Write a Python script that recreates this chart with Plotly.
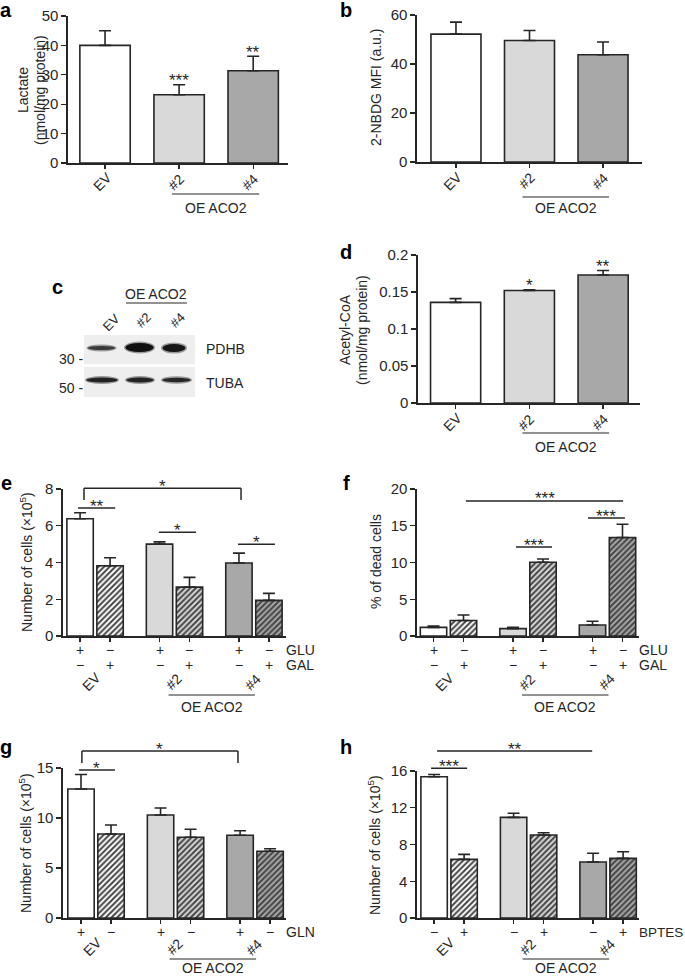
import plotly.graph_objects as go

W, H = 685, 977
FONT = "Liberation Sans, Arial, Helvetica, sans-serif"
INK = "#262626"
C_EV = "#ffffff"
C_2 = "#d9d9d9"
C_4 = "#a8a8a8"
HATCH = "#444444"

# ---------------- data ----------------
clones = ["EV", "#2", "#4"]
lactate = [40.0, 23.2, 31.4]
lactate_sem = [5.0, 3.4, 4.9]
lactate_sig = ["", "***", "**"]

nbdg = [52.2, 49.6, 43.8]
nbdg_sem = [4.9, 4.1, 5.2]

acetyl_coa = [0.136, 0.152, 0.173]
acetyl_coa_sem = [0.005, 0.001, 0.006]
acetyl_coa_sig = ["", "*", "**"]

cells_glu_gal = [6.38, 3.82, 5.00, 2.66, 3.97, 1.94]
cells_glu_gal_sem = [0.33, 0.44, 0.12, 0.53, 0.54, 0.38]
glu_row = ["+", "−", "+", "−", "+", "−"]
gal_row = ["−", "+", "−", "+", "−", "+"]

dead_cells = [1.18, 2.10, 1.00, 10.03, 1.50, 13.40]
dead_cells_sem = [0.18, 0.75, 0.20, 0.45, 0.50, 1.80]

cells_gln = [12.9, 8.4, 10.3, 8.07, 8.27, 6.67]
cells_gln_sem = [1.45, 0.90, 0.70, 0.80, 0.46, 0.26]
gln_row = ["+", "−", "+", "−", "+", "−"]

cells_bptes = [15.37, 6.38, 10.95, 9.03, 6.09, 6.49]
cells_bptes_sem = [0.25, 0.55, 0.45, 0.25, 0.95, 0.72]
bptes_row = ["−", "+", "−", "+", "−", "+"]

# significance brackets: (x0, x1, y, leg_bottom, label) in data units
sig_e = [(0.13, 5.37, 8.04, 7.4, "*"), (-0.07, 1.17, 6.96, None, "**"),
         (2.63, 3.87, 5.65, None, "*"), (5.27, 6.50, 5.00, None, "*")]
sig_f = [(1.08, 6.32, 18.37, None, "***"), (2.75, 3.95, 12.1, None, "***"),
         (5.15, 6.38, 16.05, None, "***")]
sig_g = [(0.03, 5.23, 16.7, 15.5, "*"), (-0.07, 1.13, 14.8, None, "*")]
sig_h = [(0.10, 5.27, 18.17, None, "**"), (-0.10, 1.10, 16.3, None, "***")]

# ---------------- layout geometry ----------------
pos3 = [0, 1, 2]
pos6 = [0, 1, 2.65, 3.65, 5.3, 6.3]
groups6 = [0.5, 3.15, 5.8]
colors3 = [C_EV, C_2, C_4]
colors6 = [C_EV, C_EV, C_2, C_2, C_4, C_4]

P = {
    "a": dict(n="", xd=(68, 288), yd=(16, 163), xr=(-0.5, 2.47), yr=(0, 50), yt=[0, 10, 20, 30, 40, 50]),
    "b": dict(n="2", xd=(417, 642), yd=(15, 162), xr=(-0.53, 2.53), yr=(0, 60), yt=[0, 20, 40, 60]),
    "d": dict(n="3", xd=(418, 640), yd=(255, 403), xr=(-0.51, 2.5), yr=(0, 0.2), yt=[0, 0.05, 0.1, 0.15, 0.2]),
    "e": dict(n="4", xd=(63, 286), yd=(489, 636), xr=(-0.57, 6.87), yr=(0, 8), yt=[0, 2, 4, 6, 8]),
    "f": dict(n="5", xd=(417, 639), yd=(489, 636), xr=(-0.55, 6.85), yr=(0, 20), yt=[0, 5, 10, 15, 20]),
    "g": dict(n="6", xd=(63, 286), yd=(768, 918), xr=(-0.6, 6.83), yr=(0, 15), yt=[0, 5, 10, 15]),
    "h": dict(n="7", xd=(417, 639), yd=(771, 918), xr=(-0.57, 6.83), yr=(0, 16), yt=[0, 4, 8, 12, 16]),
}

annotations = []
shapes = []


def d2px(p, x, y):
    g = P[p]
    px = g["xd"][0] + (x - g["xr"][0]) / (g["xr"][1] - g["xr"][0]) * (g["xd"][1] - g["xd"][0])
    py = g["yd"][1] - (y - g["yr"][0]) / (g["yr"][1] - g["yr"][0]) * (g["yd"][1] - g["yd"][0])
    return px, py


def ann(text, x, y, size=14, xanchor="center", yanchor="middle", angle=0, bold=False, color=INK):
    if bold:
        text = "<b>" + text + "</b>"
    annotations.append(dict(text=text, x=x / W, y=1 - y / H, xref="paper", yref="paper",
                            showarrow=False, xanchor=xanchor, yanchor=yanchor, textangle=angle,
                            borderpad=0,
                            font=dict(family=FONT, size=size, color=color)))


def seg(x0, y0, x1, y1, width=1.5, color=INK):
    shapes.append(dict(type="line", xref="paper", yref="paper", x0=x0 / W, y0=1 - y0 / H,
                       x1=x1 / W, y1=1 - y1 / H, line=dict(color=color, width=width)))


fig = go.Figure()


def add_panel(p, xs, ys, sem, colors, width, hatch=None):
    g = P[p]
    n = g["n"]
    marker = dict(color=colors, line=dict(color=INK, width=1.6))
    if hatch:
        marker["pattern"] = dict(shape=hatch, fgcolor=HATCH, fgopacity=1, size=4, solidity=0.5,
                                 fillmode="overlay")
    fig.add_trace(go.Bar(
        x=xs, y=ys, width=width, marker=marker, xaxis="x" + n, yaxis="y" + n,
        error_y=dict(type="data", array=sem, arrayminus=[0] * len(sem), symmetric=False,
                     color=INK, thickness=1.6, width=6),
        showlegend=False, hoverinfo="skip"))
    xa = dict(domain=[g["xd"][0] / W, g["xd"][1] / W], range=list(g["xr"]), anchor="y" + n,
              showgrid=False, zeroline=False, showline=True, linecolor=INK, linewidth=1.6,
              ticks="outside", ticklen=4, tickwidth=1.3, tickcolor=INK, tickvals=xs,
              showticklabels=False, fixedrange=True, automargin=False)
    ya = dict(domain=[1 - g["yd"][1] / H, 1 - g["yd"][0] / H], range=list(g["yr"]), anchor="x" + n,
              showgrid=False, zeroline=False, showline=True, linecolor=INK, linewidth=1.6,
              ticks="outside", ticklen=5, tickwidth=1.3, tickcolor=INK, tickvals=g["yt"],
              ticktext=[("%g" % v) for v in g["yt"]],
              tickfont=dict(family=FONT, size=15, color=INK), fixedrange=True, automargin=False)
    fig.layout["xaxis" + n] = xa
    fig.layout["yaxis" + n] = ya


add_panel("a", pos3, lactate, lactate_sem, colors3, 0.68)
add_panel("b", pos3, nbdg, nbdg_sem, colors3, 0.68)
add_panel("d", pos3, acetyl_coa, acetyl_coa_sem, colors3, 0.68)
hatch6 = ["", "/", "", "/", "", "/"]
add_panel("e", pos6, cells_glu_gal, cells_glu_gal_sem, colors6, 0.88, hatch6)
add_panel("f", pos6, dead_cells, dead_cells_sem, colors6, 0.88, hatch6)
add_panel("g", pos6, cells_gln, cells_gln_sem, colors6, 0.88, hatch6)
add_panel("h", pos6, cells_bptes, cells_bptes_sem, colors6, 0.88, hatch6)

STAR = 17

# ---- category labels for a, b, d ----
for p, oe_line, oe_text in (("a", 31, 45), ("b", 35, 46), ("d", 30, 44)):
    _, axis_y = d2px(p, 0, 0)
    for i, lab in zip(pos3, clones):
        tx, _ = d2px(p, i, 0)
        ann(lab, tx - 3, axis_y + 19, size=14, angle=-45)
    x2, _ = d2px(p, pos3[1], 0)
    x4, _ = d2px(p, pos3[2], 0)
    seg(x2 - 7, axis_y + oe_line, x4 + 6, axis_y + oe_line, width=1.2)
    ann("OE ACO2", (x2 + x4) / 2, axis_y + oe_text, size=14)

# significance stars above bars (a, d)
for p, vals, sems, sig in (("a", lactate, lactate_sem, lactate_sig),
                           ("d", acetyl_coa, acetyl_coa_sem, acetyl_coa_sig)):
    for i, v, s, lab in zip(pos3, vals, sems, sig):
        if lab:
            tx, ty = d2px(p, i, v + s)
            ann(lab, tx, ty - 8 + 4, size=STAR)

# ---- condition rows and clone labels for e-h ----
rows = {"e": ([glu_row, gal_row], ["GLU", "GAL"]), "f": ([glu_row, gal_row], ["GLU", "GAL"]),
        "g": ([gln_row], ["GLN"]), "h": ([bptes_row], ["BPTES"])}
for p, (rlist, rnames) in rows.items():
    _, axis_y = d2px(p, 0, 0)
    for k, (row, name) in enumerate(zip(rlist, rnames)):
        ry = axis_y + 14 + 15 * k
        for xv, sym in zip(pos6, row):
            tx, _ = d2px(p, xv, 0)
            ann(sym, tx, ry, size=14)
        ann(name, P[p]["xd"][1] - 1, ry, size=(13.5 if name == "BPTES" else 14), xanchor="left")
    nrow = len(rlist)
    lab_dy = 46 if nrow == 2 else 29
    line_dy = 59 if nrow == 2 else 41
    for j, (gx, lab) in enumerate(zip(groups6, clones)):
        tx, _ = d2px(p, gx, 0)
        ann(lab, tx - (4 if j == 0 else 1), axis_y + lab_dy, size=14, angle=-45)
    x2, _ = d2px(p, groups6[1], 0)
    x4, _ = d2px(p, groups6[2], 0)
    seg(x2 - 6, axis_y + line_dy, x4 + 1, axis_y + line_dy, width=1.2)
    ann("OE ACO2", (x2 - 6 + x4 + 1) / 2, min(axis_y + line_dy + 12, 968), size=14)

# ---- significance lines e-h ----
for p, sigs in (("e", sig_e), ("f", sig_f), ("g", sig_g), ("h", sig_h)):
    for x0, x1, y, leg, lab in sigs:
        px0, py = d2px(p, x0, y)
        px1, _ = d2px(p, x1, y)
        seg(px0, py, px1, py, width=1.5)
        if leg is not None:
            _, pl = d2px(p, x0, leg)
            seg(px0, py, px0, pl, width=1.5)
            seg(px1, py, px1, pl, width=1.5)
        ann(lab, (px0 + px1) / 2, py - 6 + 4, size=STAR)

# ---- axis titles ----
ann("Lactate", 23, 90, size=14, angle=-90)
ann("(nmol/mg protein)", 40, 90, size=14, angle=-90)
ann("2-NBDG MFI (a.u.)", 376, 88, size=14, angle=-90)
ann("Acetyl-CoA", 345, 330, size=14, angle=-90)
ann("(nmol/mg protein)", 362, 330, size=14, angle=-90)
ann("Number of cells (×10<sup>5</sup>)", 26, 562, size=14, angle=-90)
ann("% of dead cells", 376, 562, size=14, angle=-90)
ann("Number of cells (×10<sup>5</sup>)", 25, 843, size=14, angle=-90)
ann("Number of cells (×10<sup>5</sup>)", 374, 845, size=14, angle=-90)

# ---- panel letters ----
for lab, x, y in (("a", 6, 10), ("b", 346, 10), ("c", 57, 287), ("d", 346, 252),
                  ("e", 6, 483), ("f", 346, 483), ("g", 6, 747), ("h", 346, 747)):
    ann(lab, x, y, size=20, bold=True, color="#000000")

# ---- panel c: western blot drawing ----
blot_boxes = [(84, 335, 195, 364), (84, 367, 195, 397)]
for x0, y0, x1, y1 in blot_boxes:
    shapes.append(dict(type="rect", xref="paper", yref="paper", x0=x0 / W, x1=x1 / W,
                       y0=1 - y1 / H, y1=1 - y0 / H, fillcolor="#eeeeee", line=dict(width=0),
                       layer="below"))
# bands: (center x, center y, width, height, colour)
bands = [(101.5, 348, 27, 4, "#3a3a3a"), (139.5, 347.5, 28, 9, "#111111"),
         (174, 348, 23, 8, "#161616"),
         (102, 380, 31, 5, "#222222"), (140, 380, 27, 5, "#222222"),
         (176.5, 380, 28, 4.5, "#262626")]
for cx, cy, bw, bh, col in bands:
    shapes.append(dict(type="circle", xref="paper", yref="paper",
                       x0=(cx - bw / 2 - 1.5) / W, x1=(cx + bw / 2 + 1.5) / W,
                       y0=1 - (cy + bh / 2 + 1.5) / H, y1=1 - (cy - bh / 2 - 1.5) / H,
                       fillcolor="#9a9a9a", line=dict(width=0)))
    shapes.append(dict(type="circle", xref="paper", yref="paper",
                       x0=(cx - bw / 2) / W, x1=(cx + bw / 2) / W,
                       y0=1 - (cy + bh / 2) / H, y1=1 - (cy - bh / 2) / H,
                       fillcolor=col, line=dict(width=0)))
ann("OE ACO2", 156, 294, size=14)
seg(126, 303, 187, 303, width=1.2)
ann("EV", 111, 322, size=13, angle=-45)
ann("#2", 143, 320, size=13, angle=-45)
ann("#4", 177, 320, size=13, angle=-45)
ann("PDHB", 205, 349, size=14, xanchor="left")
ann("TUBA", 205, 383, size=14, xanchor="left")
ann("30 -", 84, 359, size=14, xanchor="right")
ann("50 -", 84, 388, size=14, xanchor="right")

fig.update_layout(width=W, height=H, margin=dict(l=0, r=0, t=0, b=0, autoexpand=False),
                  paper_bgcolor="white", plot_bgcolor="white",
                  font=dict(family=FONT, size=14, color=INK),
                  annotations=annotations, shapes=shapes, bargap=0)

fig.write_html("out.html", config={"displayModeBar": False, "staticPlot": True},
               post_script="document.body.style.margin='0';document.body.style.padding='0';")
